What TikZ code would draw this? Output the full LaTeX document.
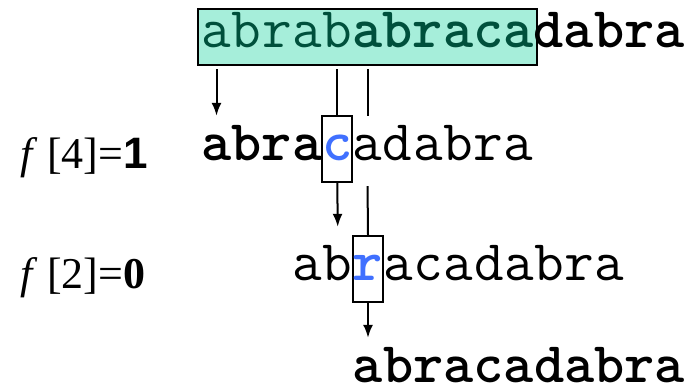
\documentclass[tikz,border=0pt]{standalone}
\usepackage{fontspec}
\setmainfont{Liberation Serif}
\newfontfamily\labsans{Liberation Sans}
\usetikzlibrary{fit,backgrounds,arrows.meta}

\definecolor{boxfill}{RGB}{166,238,218}
\definecolor{boxtext}{RGB}{0,80,60}
\definecolor{hilite}{RGB}{64,112,255}
\newcommand{\chfont}{\fontsize{57.5}{57.5}\selectfont\ttfamily}

\begin{document}
\begin{tikzpicture}[x=1pt,y=-1pt,
  chr/.style={font=\chfont, inner sep=0pt, minimum width=30.2pt,
              text height=44pt, text depth=22pt, anchor=base},
  chb/.style={chr, font=\chfont\bfseries},
  toprow/.style={text height=38pt, text depth=18pt},
  hl/.style={chb, text=hilite, draw, line width=2pt},
  lbl/.style={font=\fontsize{44}{44}\selectfont, inner sep=0pt, anchor=base west},
  link/.style={line width=2pt},
  >={Latex[length=13pt,width=10pt]}]

\useasboundingbox (0,0) rectangle (695,391);

% Text line
\foreach \ch [count=\i from 0] in {a,b,r,a,b}
  \node[chr,toprow,text=boxtext] (t\i) at (216.5+30.2*\i,47) {\ch};
\foreach \ch [count=\i from 5] in {a,b,r,a,c,a}
  \node[chb,toprow,text=boxtext] (t\i) at (216.5+30.2*\i,47) {\ch};
\foreach \ch [count=\i from 11] in {d,a,b,r,a}
  \node[chb,toprow] (t\i) at (216.5+30.2*\i,47) {\ch};

\begin{scope}[on background layer]
\node[fit=(t0)(t10), inner sep=0pt, inner xsep=3pt, draw, line width=2.5pt, fill=boxfill] (win) {};
\end{scope}

% Pattern, first shift
\foreach \ch [count=\i from 0] in {a,b,r,a}
  \node[chb] (p\i) at (216.5+30.2*\i,160) {\ch};
\node[hl] (p4) at (216.5+30.2*4,160) {c};
\foreach \ch [count=\i from 5] in {a,d,a,b,r,a}
  \node[chr] (p\i) at (216.5+30.2*\i,160) {\ch};

\node[lbl] (f1) at (20,168) {{\itshape f}\,\,[4]={\labsans\bfseries 1}};

% Pattern, second shift
\foreach \ch [count=\i from 0] in {a,b}
  \node[chr] (q\i) at (307.6+30.2*\i,280) {\ch};
\node[hl] (q2) at (307.6+30.2*2,280) {r};
\foreach \ch [count=\i from 3] in {a,c,a,d,a,b,r,a}
  \node[chr] (q\i) at (307.6+30.2*\i,280) {\ch};

\node[lbl] (f2) at (20,288) {{\itshape f}\,\,[2]={\bfseries 0}};

% Pattern, final place
\foreach \ch [count=\i from 0] in {a,b,r,a,c,a,d,a,b,r,a}
  \node[chb, text depth=3pt] (s\i) at (368+30.2*\i,382) {\ch};

% Links between the lines
\draw [->] [link, shorten <=4pt] (t0.south) -- (p0.north);
\draw [link, shorten <=4pt] (t4.south) -- (p4.north);
\draw [link, shorten <=4pt] (t5.south) -- (p5.north);
\draw [link, shorten <=4pt] (p5.south) -- (q2.north);
\draw [->] [link, shorten >=9pt] (p4.south) -- (q1.north);
\draw [->] [link] (q2.south) -- (s0.north);

\end{tikzpicture}
\end{document}
